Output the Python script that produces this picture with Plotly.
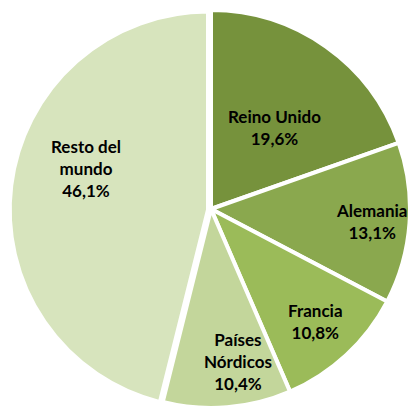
import math
import plotly.graph_objects as go

labels = ["Reino Unido", "Alemania", "Francia", "Países<br>Nórdicos", "Resto del<br>mundo"]
values = [19.6, 13.1, 10.8, 10.4, 46.1]
colors = ["#76923C", "#8AA84E", "#9BBB59", "#C3D69B", "#D7E4BD"]

# label placement (style): fraction along slice angle, fraction of radius
label_angle_frac = [0.537, 0.507, 0.50, 0.36, 0.57]
label_radius_frac = [0.52, 0.81, 0.774, 0.78, 0.65]

W, H = 410, 408
n = len(values)
pulled = n - 1
texts = [f"{l}<br>{str(v).replace('.', ',')}%" for l, v in zip(labels, values)]

# pie boxes in pixels (x0, x1, y0, y1)
main_box = (12, 410, 10, 408)
pull_box = (9.5, 406.5, 11.5, 408)

def px_dom(b):
    x0, x1, y0, y1 = b
    return dict(x=[x0 / W, min(x1 / W, 1)], y=[max(0, 1 - y1 / H), 1 - y0 / H])

fig = go.Figure()
for box, sel in [(main_box, lambda i: i != pulled), (pull_box, lambda i: i == pulled)]:
    fig.add_trace(go.Pie(
        values=values, labels=labels, sort=False, direction="clockwise", rotation=0,
        marker=dict(colors=[c if sel(i) else "rgba(0,0,0,0)" for i, c in enumerate(colors)],
                    line=dict(color="white", width=[4 if sel(i) else 0 for i in range(n)])),
        textinfo="none", domain=px_dom(box), showlegend=False, hoverinfo="skip",
    ))

# labels positioned from the data's slice angles
total = sum(values)
cum = 0
for i, v in enumerate(values):
    a0 = cum / total * 360
    a1 = (cum + v) / total * 360
    cum += v
    box = pull_box if i == pulled else main_box
    x0, x1, y0, y1 = box
    y1c = min(y1, H)
    r = min(x1 - x0, y1c - y0) / 2
    cx, cy = (x0 + x1) / 2, (y0 + y1c) / 2
    ang = math.radians(a0 + (a1 - a0) * label_angle_frac[i])
    d = r * label_radius_frac[i]
    px = cx + d * math.sin(ang)
    py = cy - d * math.cos(ang)
    fig.add_annotation(
        x=px / W, y=1 - py / H, xref="paper", yref="paper", text=f"<b>{texts[i]}</b>",
        showarrow=False, font=dict(family="Lato", size=17, color="black"),
        xanchor="center", yanchor="middle", align="center",
    )

fig.update_layout(
    width=W, height=H, margin=dict(l=0, r=0, t=0, b=0),
    paper_bgcolor="white", plot_bgcolor="white",
)
fig.write_html("out.html", config={"displayModeBar": False},
               post_script="document.body.style.margin='0';document.body.style.overflow='hidden';")
